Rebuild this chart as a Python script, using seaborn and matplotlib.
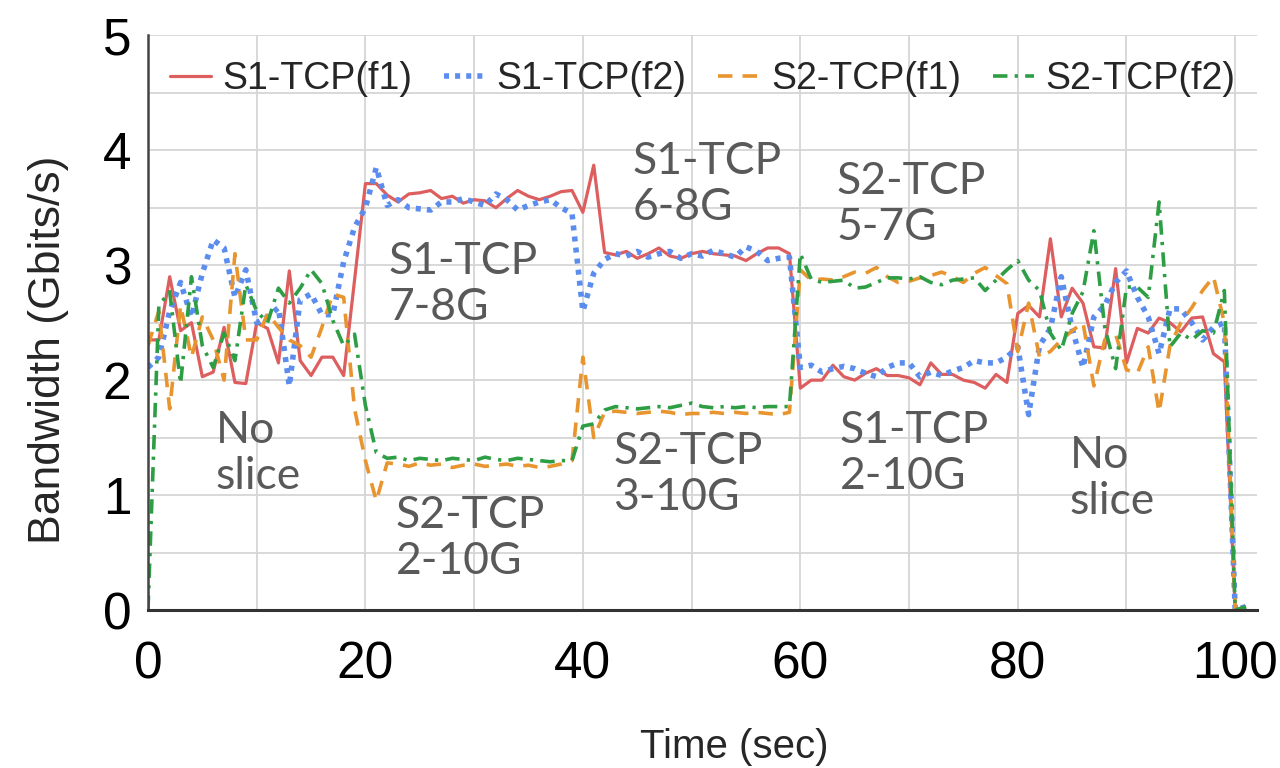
import numpy as np
import pandas as pd
import matplotlib
matplotlib.use("Agg")
import matplotlib.pyplot as plt
import seaborn as sns
from matplotlib.ticker import MultipleLocator

time = list(range(0, 102))

s1_f1 = [2.35, 2.35, 2.9, 2.43, 2.5, 2.03, 2.07, 2.46, 1.98, 1.97, 2.5, 2.45, 2.15, 2.95, 2.17, 2.04, 2.2, 2.2, 2.04, 2.87,
         3.71, 3.71, 3.61, 3.55, 3.62, 3.63, 3.65, 3.58, 3.6, 3.54, 3.57, 3.56, 3.5, 3.58, 3.65, 3.6, 3.57, 3.6, 3.64, 3.65,
         3.46, 3.87, 3.11, 3.09, 3.12, 3.06, 3.1, 3.15, 3.08, 3.06, 3.1, 3.12, 3.1, 3.09, 3.08, 3.04, 3.1, 3.15, 3.15, 3.1,
         1.93, 2.0, 2.0, 2.13, 2.03, 2.0, 2.06, 2.1, 2.04, 2.04, 2.02, 1.96, 2.15, 2.05, 2.05, 2.0, 1.98, 1.93, 2.05, 1.98,
         2.58, 2.65, 2.55, 3.23, 2.55, 2.8, 2.67, 2.29, 2.28, 2.97, 2.15, 2.45, 2.41, 2.54, 2.5, 2.42, 2.54, 2.55, 2.23, 2.16,
         0.0, 0.0]
s1_f2 = [2.11, 2.2, 2.6, 2.85, 2.55, 2.93, 3.22, 3.15, 2.72, 2.96, 2.5, 2.55, 2.63, 1.95, 2.7, 2.75, 2.57, 2.57, 3.03, 3.33,
         3.5, 3.85, 3.52, 3.57, 3.5, 3.49, 3.48, 3.55, 3.55, 3.58, 3.55, 3.52, 3.62, 3.57, 3.48, 3.52, 3.55, 3.57, 3.5, 3.45,
         2.6, 2.93, 3.05, 3.1, 3.08, 3.12, 3.07, 3.1, 3.12, 3.06, 3.1, 3.08, 3.13, 3.1, 3.07, 3.16, 3.12, 3.04, 3.06, 3.07,
         2.11, 2.13, 2.07, 2.1, 2.12, 2.1, 2.06, 2.03, 2.11, 2.15, 2.15, 2.03, 2.07, 2.04, 2.08, 2.11, 2.17, 2.15, 2.15, 2.2,
         2.29, 1.7, 2.3, 2.45, 2.9, 2.45, 2.11, 2.55, 2.65, 2.85, 2.95, 2.72, 2.55, 2.23, 2.62, 2.62, 2.5, 2.35, 2.46, 2.5,
         0.0, 0.03]
s2_f1 = [2.3, 2.6, 1.75, 2.65, 2.2, 2.55, 2.35, 2.0, 3.1, 2.35, 2.35, 2.58, 2.46, 2.35, 2.3, 2.2, 2.46, 2.75, 2.72, 1.75,
         1.3, 0.95, 1.28, 1.27, 1.25, 1.28, 1.26, 1.27, 1.24, 1.26, 1.27, 1.25, 1.26, 1.27, 1.25, 1.26, 1.24, 1.25, 1.27, 1.3,
         2.2, 1.5, 1.72, 1.73, 1.72, 1.71, 1.72, 1.73, 1.72, 1.7, 1.71, 1.71, 1.72, 1.71, 1.72, 1.71, 1.72, 1.71, 1.7, 1.72,
         2.96, 2.87, 2.88, 2.87, 2.9, 2.94, 2.93, 2.98, 2.9, 2.85, 2.86, 2.89, 2.91, 2.94, 2.9, 2.85, 2.93, 2.98, 2.91, 2.84,
         2.25, 2.67, 2.2, 2.25, 2.35, 2.43, 2.5, 1.95, 2.35, 2.4, 2.09, 2.06, 2.29, 1.72, 2.3, 2.5, 2.63, 2.78, 2.9, 2.5,
         0.0, 0.0]
s2_f2 = [0.0, 2.65, 2.77, 1.97, 2.9, 2.3, 2.11, 2.41, 2.17, 2.83, 2.6, 2.5, 2.8, 2.67, 2.8, 2.96, 2.84, 2.52, 2.3, 2.4,
         1.78, 1.37, 1.32, 1.33, 1.3, 1.32, 1.31, 1.3, 1.32, 1.31, 1.3, 1.33, 1.31, 1.3, 1.32, 1.31, 1.3, 1.29, 1.3, 1.3,
         1.6, 1.62, 1.74, 1.77, 1.76, 1.75, 1.76, 1.77, 1.76, 1.78, 1.8, 1.77, 1.76, 1.77, 1.76, 1.77, 1.76, 1.77, 1.77, 1.77,
         3.1, 2.88, 2.85, 2.86, 2.87, 2.8, 2.81, 2.85, 2.89, 2.89, 2.88, 2.9, 2.85, 2.83, 2.87, 2.88, 2.89, 2.78, 2.87, 2.96,
         3.04, 2.87, 2.78, 2.41, 2.26, 2.58, 2.77, 3.3, 2.46, 2.1, 2.81, 2.81, 2.72, 3.55, 2.29, 2.41, 2.35, 2.43, 2.41, 2.78,
         0.0, 0.03]

series_names = ["S1-TCP(f1)", "S1-TCP(f2)", "S2-TCP(f1)", "S2-TCP(f2)"]
x_ticks = [0, 20, 40, 60, 80, 100]
y_ticks = [0, 1, 2, 3, 4, 5]

annotations = [
    ("No\nslice", 6.2, 1.74),
    ("S1-TCP\n7-8G", 22.1, 3.21),
    ("S2-TCP\n2-10G", 22.8, 1.00),
    ("S1-TCP\n6-8G", 44.6, 4.08),
    ("S2-TCP\n3-10G", 42.8, 1.56),
    ("S2-TCP\n5-7G", 63.3, 3.91),
    ("S1-TCP\n2-10G", 63.6, 1.74),
    ("No\nslice", 84.8, 1.52),
]

colors = ["#DD5E5E", "#5B8DEF", "#E8952F", "#2E9E45"]
styles = [
    dict(linestyle="-", linewidth=2.3),
    dict(linestyle=(0, (0.9, 1.1)), linewidth=4.0),
    dict(linestyle=(0, (4.0, 2.8)), linewidth=2.6),
    dict(linestyle=(0, (4.0, 2.0, 0.9, 2.0)), linewidth=2.6),
]

sns.set_theme(style="white")
sansf = ["Liberation Sans", "DejaVu Sans"]
plt.rcParams["font.family"] = sansf

fig = plt.figure(figsize=(12.8, 7.68), dpi=100)
ax = fig.add_axes([0.1156, 0.2057, 0.8664, 0.7483])

for name, vals, c, st in zip(series_names, [s1_f1, s1_f2, s2_f1, s2_f2], colors, styles):
    sns.lineplot(x=time, y=vals, ax=ax, color=c, label=name, **st)

ax.set_xlim(0, 102)
ax.set_ylim(0, 5)
ax.set_xticks(x_ticks)
ax.set_yticks(y_ticks)
ax.xaxis.set_minor_locator(MultipleLocator(10))
ax.yaxis.set_minor_locator(MultipleLocator(0.5))
ax.grid(True, which="both", color="#d6d6d6", linewidth=1.3)
ax.set_axisbelow(True)
ax.tick_params(axis="both", which="both", length=0, labelsize=37, colors="black")
ax.tick_params(axis="x", pad=22)
ax.tick_params(axis="y", pad=12)

for side in ["top", "right"]:
    ax.spines[side].set_visible(False)
ax.spines["left"].set_color("#444444")
ax.spines["left"].set_linewidth(1.8)
ax.spines["bottom"].set_color("#333333")
ax.spines["bottom"].set_linewidth(2.2)

ax.set_xlabel("Time (sec)", fontsize=29)
ax.xaxis.set_label_coords(0.529, -0.205)
ax.set_ylabel("Bandwidth (Gbits/s)", fontsize=32)
ax.yaxis.set_label_coords(-0.071, 0.452)

for txt, tx, ty in annotations:
    ax.text(tx, ty, txt, fontsize=32, color="#595959", family=["Lato", "DejaVu Sans"],
            ha="left", va="top", linespacing=1.15)

leg = ax.legend(loc="upper center", bbox_to_anchor=(0.5, 0.995), ncol=4, frameon=False,
                fontsize=27, handlelength=1.1, columnspacing=0.85, handletextpad=0.3,
                borderaxespad=0.2)

fig.savefig("out.png", dpi=100)
